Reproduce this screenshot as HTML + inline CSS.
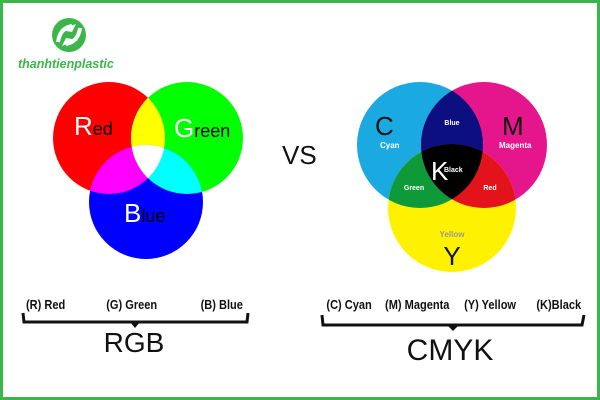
<!DOCTYPE html>
<html><head><meta charset="utf-8"><style>
html,body{margin:0;padding:0;background:#fff}
svg{display:block}
</style></head><body>
<svg width="600" height="400" viewBox="0 0 600 400" xmlns="http://www.w3.org/2000/svg" font-family="Liberation Sans, sans-serif">
<defs>
<clipPath id="cR"><circle cx="109" cy="138" r="56"/></clipPath>
<clipPath id="cG"><circle cx="187" cy="138" r="56"/></clipPath>
<clipPath id="cC"><circle cx="420" cy="145" r="63"/></clipPath>
<clipPath id="cM"><circle cx="484" cy="145" r="63"/></clipPath>
</defs>
<rect x="1.5" y="1.5" width="597" height="397" fill="#fff" stroke="#3cb54a" stroke-width="3"/>
<!-- logo -->
<circle cx="69" cy="35" r="17" fill="#3cb54a"/>
<path d="M60 30 L76 24 L72 32 Z M78 40 L62 46 L66 38 Z" fill="#fff"/>
<path d="M58 42 Q60 28 72 26" stroke="#fff" stroke-width="4" fill="none"/>
<path d="M80 28 Q78 42 66 44" stroke="#fff" stroke-width="4" fill="none"/>
<text x="18" y="68" font-size="12.5" font-weight="bold" font-style="italic" fill="#3cb54a">thanhtienplastic</text>
<!-- RGB -->
<circle cx="109" cy="138" r="56" fill="#ff0000"/>
<circle cx="187" cy="138" r="56" fill="#00ff00"/>
<circle cx="146" cy="202" r="57" fill="#0000ff"/>
<g clip-path="url(#cR)"><circle cx="187" cy="138" r="56" fill="#ffff00"/><circle cx="146" cy="202" r="57" fill="#ff00ff"/></g>
<g clip-path="url(#cG)"><circle cx="146" cy="202" r="57" fill="#00ffff"/><g clip-path="url(#cR)"><circle cx="146" cy="202" r="57" fill="#fff"/></g></g>
<text x="74" y="135" font-size="26" fill="#fff">R<tspan font-size="18" fill="#000">ed</tspan></text>
<text x="174" y="137" font-size="26" fill="#fff">G<tspan font-size="18" fill="#000">reen</tspan></text>
<text x="124" y="222" font-size="26" fill="#fff">B<tspan font-size="18" fill="#000">lue</tspan></text>
<text x="282" y="164" font-size="26" fill="#111">VS</text>
<!-- CMYK -->
<circle cx="420" cy="145" r="63" fill="#1ba9e1"/>
<circle cx="484" cy="145" r="63" fill="#e5158c"/>
<circle cx="452" cy="208" r="64" fill="#fff200"/>
<g clip-path="url(#cC)"><circle cx="484" cy="145" r="63" fill="#0b0f80"/><circle cx="452" cy="208" r="64" fill="#0f9a3a"/></g>
<g clip-path="url(#cM)"><circle cx="452" cy="208" r="64" fill="#e3131b"/><g clip-path="url(#cC)"><circle cx="452" cy="208" r="64" fill="#000"/></g></g>
<text x="375" y="135" font-size="26" fill="#111">C</text>
<text x="380" y="148" font-size="8" font-weight="bold" fill="#fff">Cyan</text>
<text x="502" y="135" font-size="26" fill="#111">M</text>
<text x="499" y="148" font-size="8" font-weight="bold" fill="#fff">Magenta</text>
<text x="452" y="125" font-size="7" font-weight="bold" fill="#fff" text-anchor="middle">Blue</text>
<text x="431" y="180" font-size="26" fill="#fff">K</text>
<text x="444" y="172" font-size="7" font-weight="bold" fill="#fff">Black</text>
<text x="414" y="190" font-size="7" font-weight="bold" fill="#fff" text-anchor="middle">Green</text>
<text x="490" y="190" font-size="7" font-weight="bold" fill="#fff" text-anchor="middle">Red</text>
<text x="452" y="237" font-size="8" font-weight="bold" fill="#999" text-anchor="middle">Yellow</text>
<text x="452" y="265" font-size="26" fill="#111" text-anchor="middle">Y</text>
<!-- brackets -->
<g font-size="13" fill="#111" font-weight="bold" transform="scale(0.85,1)">
<text x="30.6" y="309">(R) Red</text>
<text x="125" y="309">(G) Green</text>
<text x="236" y="309">(B) Blue</text>
<text x="384" y="309">(C) Cyan</text>
<text x="453" y="309">(M) Magenta</text>
<text x="546" y="309">(Y) Yellow</text>
<text x="631" y="309">(K)Black</text>
</g>
<path d="M23 313 L24 322 L247 322 L248 313" stroke="#111" stroke-width="3" fill="none"/>
<path d="M130 322 L135 328 L140 322 Z" fill="#111"/>
<path d="M322 315 L323 325 L582 325 L584 315" stroke="#111" stroke-width="3" fill="none"/>
<path d="M447 325 L453 331 L459 325 Z" fill="#111"/>
<text x="134" y="352" font-size="28" fill="#111" text-anchor="middle">RGB</text>
<text x="450" y="360" font-size="30" fill="#111" text-anchor="middle">CMYK</text>
</svg>
</body></html>
